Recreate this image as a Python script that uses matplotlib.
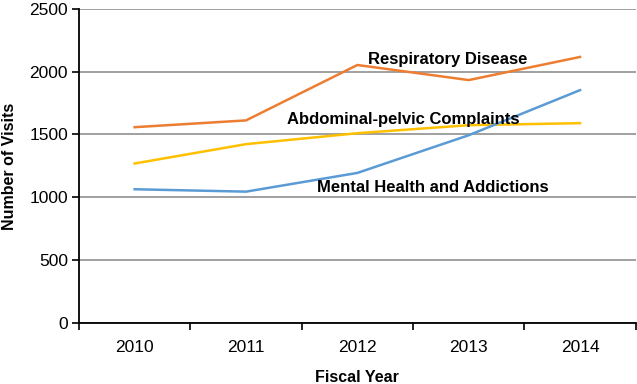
import matplotlib.pyplot as plt
import numpy as np

plt.rcParams['font.family'] = ['Liberation Sans', 'DejaVu Sans']

years = ['2010', '2011', '2012', '2013', '2014']
respiratory = [1558, 1612, 2053, 1933, 2117]
abdominal = [1269, 1423, 1510, 1574, 1590]
mental = [1064, 1045, 1194, 1494, 1853]

fig = plt.figure(figsize=(6.37, 3.84), dpi=100)
ax = fig.add_axes([0.124, 0.159, 0.874, 0.818])

x = np.arange(len(years))
ax.plot(x, respiratory, color='#ED7D31', lw=1.8)
ax.plot(x, abdominal, color='#FFC000', lw=1.8)
ax.plot(x, mental, color='#5B9BD5', lw=1.8)

ax.set_xlim(-0.5, len(years) - 0.5)
ax.set_ylim(0, 2500)
ax.set_yticks(np.arange(0, 2501, 500))
ax.yaxis.grid(True, color='#999999', lw=1.3)
ax.set_axisbelow(True)

ax.set_xticks(x)
ax.set_xticklabels(years)
ax.set_xticks(np.arange(-0.5, len(years)), minor=True)
ax.tick_params(axis='x', which='major', length=0, pad=12, labelsize=12.5)
ax.tick_params(axis='x', which='minor', length=5, width=1.2)
ax.tick_params(axis='y', length=5, width=1.2, labelsize=12.5, pad=3)

for s in ['top', 'right']:
    ax.spines[s].set_visible(False)
for s in ['left', 'bottom']:
    ax.spines[s].set_linewidth(1.3)

ax.set_xlabel('Fiscal Year', fontsize=11.5, fontweight='bold', labelpad=11)
ax.set_ylabel('Number of Visits', fontsize=11.5, fontweight='bold', labelpad=9)

ax.text(2.81, 2093, 'Respiratory Disease', fontsize=12, fontweight='bold',
        ha='center', va='center')
ax.text(2.41, 1621, 'Abdominal-pelvic Complaints', fontsize=12,
        fontweight='bold', ha='center', va='center')
ax.text(2.68, 1080, 'Mental Health and Addictions', fontsize=12,
        fontweight='bold', ha='center', va='center')

fig.savefig('out.png', dpi=100)
